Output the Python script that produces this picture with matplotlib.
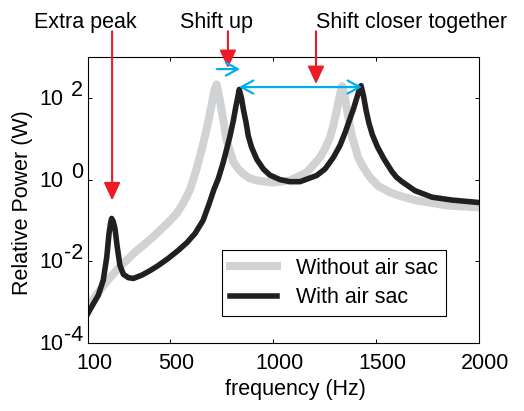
import matplotlib
matplotlib.use("Agg")
import matplotlib.pyplot as plt
from matplotlib.transforms import ScaledTranslation

GRAY = "#D1D2D4"
BLACK = "#231F20"
RED = "#ED1C24"
BLUE = "#00AEEF"
FS = 15.5

plt.rcParams["font.family"] = ["Liberation Sans", "DejaVu Sans"]

# frequency (Hz) and relative power (W)
freq_without = [100, 134, 183, 247, 328, 410, 490, 532, 566, 596, 625, 654,
                678, 698, 712, 725, 739, 754, 773, 806, 829, 855, 882, 920,
                1000, 1082, 1163, 1227, 1252, 1276, 1293, 1308, 1328, 1336,
                1349, 1363, 1383, 1413, 1436, 1470, 1509, 1567, 1616, 1697,
                1843, 2000]
power_without = [7.59e-4, 1.35e-3, 2.88e-3, 6.76e-3, 1.66e-2, 3.72e-2,
                 8.91e-2, 0.151, 0.282, 0.575, 1.66, 5.75, 18.6, 57.5, 141,
                 214, 100, 36.3, 9.55, 2.75, 1.86, 1.38, 1.10, 0.955, 0.851,
                 0.955, 1.51, 3.47, 5.75, 10.7, 21.9, 47.9, 148, 195, 100,
                 38.9, 11.7, 3.47, 2.09, 1.15, 0.708, 0.490, 0.398, 0.309,
                 0.234, 0.209]

freq_with = [100, 118, 150, 174, 191, 202, 210, 215, 222, 231, 242, 255, 272,
             296, 320, 361, 401, 442, 489, 539, 581, 620, 659, 688, 712, 733,
             757, 774, 790, 806, 819, 829, 835, 847, 855, 868, 879, 895, 920,
             952, 984, 1033, 1082, 1130, 1211, 1252, 1292, 1324, 1351, 1373,
             1390, 1405, 1417, 1427, 1439, 1451, 1465, 1482, 1507, 1538, 1577,
             1599, 1626, 1689, 1772, 1869, 2000]
power_with = [5.37e-4, 7.76e-4, 1.48e-3, 3.47e-3, 1.26e-2, 4.79e-2, 8.91e-2,
              0.112, 9.55e-2, 6.31e-2, 2.24e-2, 7.94e-3, 4.79e-3, 3.98e-3,
              3.80e-3, 4.57e-3, 5.89e-3, 7.94e-3, 1.17e-2, 1.86e-2, 2.88e-2,
              4.79e-2, 0.100, 0.251, 0.575, 1.05, 2.63, 5.62, 11.7, 27.5,
              63.1, 112, 162, 93.3, 52.5, 25.1, 11.7, 6.17, 3.16, 1.82, 1.29,
              1.00, 0.891, 0.891, 1.26, 1.82, 3.47, 6.76, 14.8, 30.9, 53.7,
              95.5, 148, 200, 112, 51.3, 24.5, 12.6, 6.31, 3.24, 1.58, 1.15,
              0.891, 0.537, 0.372, 0.316, 0.275]

x_ticks = [100, 500, 1000, 1500, 2000]
y_ticks = [1e-4, 1e-2, 1e0, 1e2]
y_exponents = ["-4", "-2", "0", "2"]

fig = plt.figure(figsize=(5.24, 4.11), dpi=100)
ax = fig.add_axes([0.168, 0.1655, 0.746, 0.6955])

ax.plot(freq_without, power_without, color=GRAY, lw=5.8,
        solid_joinstyle="round", label="Without air sac")
ax.plot(freq_with, power_with, color=BLACK, lw=4.0,
        solid_joinstyle="round", label="With air sac")

ax.set_yscale("log")
ax.set_xlim(100, 2000)
ax.set_ylim(1e-4, 1e3)
ax.set_xticks(x_ticks)
ax.set_xticklabels([str(t) for t in x_ticks], fontsize=FS)
ax.set_yticks(y_ticks)
ax.set_yticklabels([])
ax.minorticks_off()
ax.tick_params(direction="in", top=True, right=True, length=3, width=0.7,
               pad=7)
for sp in ax.spines.values():
    sp.set_linewidth(0.8)
for lab in ax.get_xticklabels():
    lab.set_transform(lab.get_transform()
                      + ScaledTranslation(0.06, 0, fig.dpi_scale_trans))

# MATLAB-style 10^n labels
ytr = ax.get_yaxis_transform()
for val, exp in zip(y_ticks, y_exponents):
    ax.annotate("10", xy=(0, val), xycoords=ytr, xytext=(-25, -7),
                textcoords="offset pixels", ha="right", va="baseline",
                fontsize=FS, annotation_clip=False)
    ax.annotate(exp, xy=(0, val), xycoords=ytr, xytext=(-5, 2),
                textcoords="offset pixels", ha="right", va="baseline",
                fontsize=FS, annotation_clip=False)

ax.set_xlabel("frequency (Hz)", fontsize=FS)
ax.xaxis.set_label_coords(0.53, -0.125)
ax.set_ylabel("Relative Power (W)", fontsize=FS)
ax.yaxis.set_label_coords(-0.14, 0.49)

leg = ax.legend(loc="upper left", bbox_to_anchor=(0.343, 0.325),
                borderaxespad=0, fontsize=FS, handlelength=2.2,
                handletextpad=0.9, borderpad=0.35, labelspacing=0.4,
                fancybox=False, framealpha=1, edgecolor="black")
leg.get_frame().set_linewidth(0.8)

# annotations
top = 4300
red_head = "-|>,head_length=1.08,head_width=0.5"
for x, tip in [(217, 0.31), (780, 540), (1208, 219)]:
    ax.annotate("", xy=(x, tip), xytext=(x, top),
                arrowprops=dict(arrowstyle=red_head, color=RED, lw=1.5,
                                mutation_scale=10, shrinkA=0, shrinkB=0),
                annotation_clip=False)

blue_kw = dict(color=BLUE, lw=1.6, mutation_scale=10, shrinkA=0, shrinkB=0)
ax.annotate("", xy=(839, 509), xytext=(727, 509),
            arrowprops=dict(arrowstyle="->,head_length=0.86,head_width=0.47",
                            **blue_kw), annotation_clip=False)
ax.annotate("", xy=(1431, 185), xytext=(834, 185),
            arrowprops=dict(arrowstyle="<->,head_length=0.86,head_width=0.47",
                            **blue_kw), annotation_clip=False)

for txt, xc in [("Extra peak", 85), ("Shift up", 217),
                ("Shift closer together", 412)]:
    fig.text(xc / 524, 1 - 28 / 411, txt, ha="center", va="baseline",
             fontsize=FS)

fig.savefig("out.png", dpi=100)
